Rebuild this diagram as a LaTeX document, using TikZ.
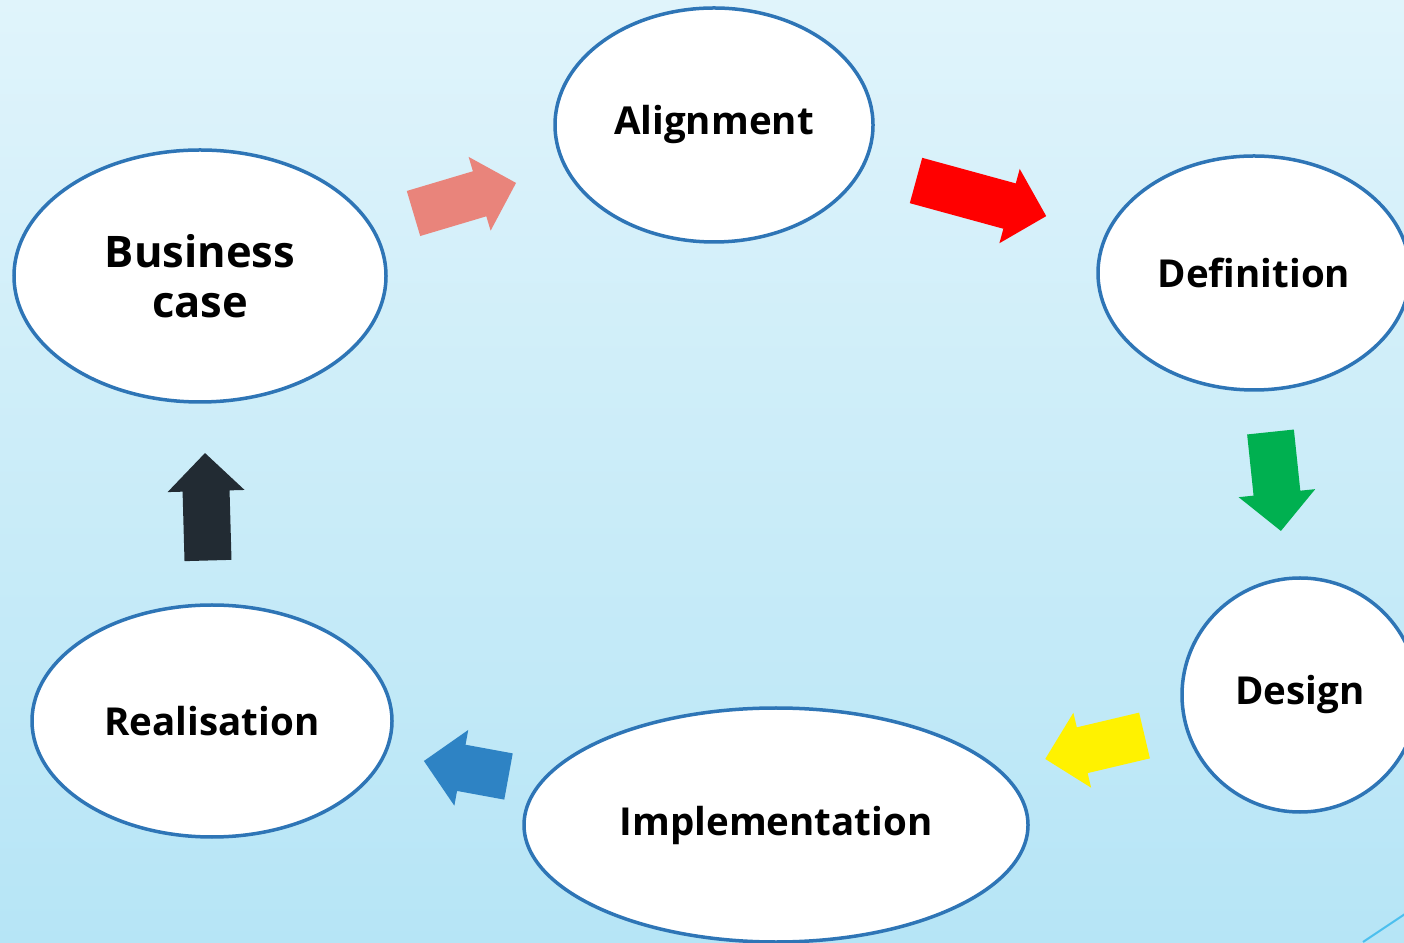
\documentclass[tikz,border=0pt]{standalone}
\usepackage{fontspec}
\setmainfont{Open Sans}
\usetikzlibrary{shapes.geometric,positioning}

\definecolor{phaseblue}{HTML}{2E75B6}
\definecolor{skytop}{HTML}{E0F4FB}
\definecolor{skybottom}{HTML}{B6E5F6}
\definecolor{salmon}{HTML}{E9847B}
\definecolor{leafgreen}{HTML}{00B050}
\definecolor{steelblue}{HTML}{2E83C4}
\definecolor{slate}{HTML}{222B33}

% block arrow: colour, tail point, angle, length
\newcommand{\blockarrow}[4]{%
  \fill[#1, shift={(#2)}, rotate=#3] (0,-23.5) -- ({#4-38},-23.5) -- ({#4-38},-38.5)
    -- (#4,0) -- ({#4-38},38.5) -- ({#4-38},23.5) -- (0,23.5) -- cycle;}

\tikzset{
  phase/.style={ellipse, draw=phaseblue, line width=3.5pt, fill=white, inner sep=0pt,
    align=center, font=\bfseries\fontsize{38.5}{42}\selectfont},
}

\begin{document}
\begin{tikzpicture}[x=1pt, y=1pt]
\clip (0,0) rectangle (1404,942);
% Background
\shade[top color=skytop, bottom color=skybottom] (0,0) rectangle (1404,942);
\draw[cyan!60!skybottom, line width=2pt] (1363,0) -- (1420,38);

% Phases
\node[phase, minimum width=372, minimum height=252,
  font=\bfseries\fontsize{43.5}{50}\selectfont] (business) at (200,666) {Business\\case};
\node[phase, minimum width=318, minimum height=234] (alignment) at (714,817) {Alignment};
\node[phase, minimum width=312, minimum height=234] (definition) at (1254,669) {Definition};
\node[phase, minimum width=236, minimum height=234] (design) at (1300,247) {Design};
\node[phase, minimum width=504, minimum height=234] (implementation) at (776,117) {Implementation};
\node[phase, minimum width=360, minimum height=232] (realisation) at (212,221) {Realisation};

% Arrows between phases
\blockarrow{salmon}{413.5,728.5}{16.6}{107}
\blockarrow{red}{916,761.5}{-15.3}{135}
\blockarrow{leafgreen}{1270.5,510}{-84}{99.5}
\blockarrow{yellow}{1144.5,206.5}{193.3}{102}
\blockarrow{steelblue}{508.5,165.5}{169.6}{86}
\blockarrow{slate}{208,381.5}{91.6}{107.5}
\end{tikzpicture}
\end{document}
